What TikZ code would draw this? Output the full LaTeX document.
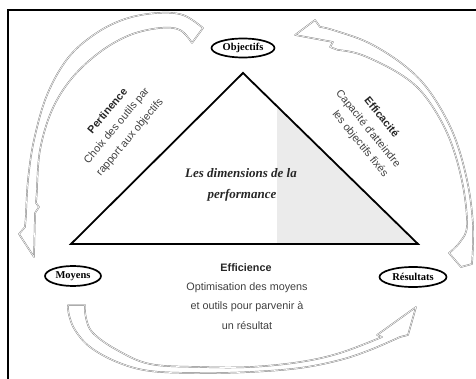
\documentclass[tikz,border=0pt]{standalone}
\usepackage{fontspec}
\setmainfont{Liberation Serif}
\newfontfamily\arialf{Liberation Sans}
\usetikzlibrary{shapes.geometric}
\begin{document}
\begin{tikzpicture}[x=1pt,y=-1pt,
  arr/.style={draw=black!50, line width=0.45pt, double=white, double distance=0.6pt, fill=white, line join=round},
  oval/.style={ellipse, draw=black, line width=1.7pt, inner sep=0pt, font=\bfseries\fontsize{10.5}{12}\selectfont},
  lbl/.style={font=\arialf\fontsize{10.8}{13}\selectfont, text=black!75},
  blbl/.style={font=\arialf\bfseries\fontsize{10.8}{13}\selectfont, text=black!85},
  ttl/.style={font=\bfseries\itshape\fontsize{13}{15}\selectfont, text=black!85}]
\useasboundingbox (0,0) rectangle (476,379);
% frame
\draw[line width=1.5pt] (8,379) -- (8,10) -- (476,10);
% triangle
\coordinate (A) at (243,73);
\coordinate (B) at (71,244);
\coordinate (C) at (418,244);
\fill[black!8] (277,106.2) -- (C) -- (277,244) -- cycle;
\draw[line width=1.8pt, line join=miter] (A) -- (B) -- (C) -- cycle;
% arrow top-left (Objectifs -> Moyens)
\draw[arr] (203,28) -- plot[smooth,tension=0.6] coordinates {(203,28) (183,15) (157,13) (125,19) (95,34) (68,58) (47,95) (34,140) (28,180) (26,215)}
  -- (25,227) -- (19,234) -- (34,257) -- (35,213) -- (39,207) -- (36,203) -- (37,190)
  -- plot[smooth,tension=0.6] coordinates {(37,190) (40,150) (52,110) (72,78) (100,52) (130,35) (160,28) (180,30) (192,43)} -- cycle;
% arrow right (Resultats -> Objectifs)
\draw[arr] (295,35) -- (315,20) -- (320,27)
  -- plot[smooth,tension=0.6] coordinates {(320,27) (333,30) (369,43) (405,66) (430,92) (453,133) (467,180) (473,225) (472,264)}
  -- (461,267) -- (449,253)
  -- plot[smooth,tension=0.6] coordinates {(449,253) (460,242) (467,225) (462,181) (448,135) (425,96) (400,74) (362,55) (338,50)}
  -- (330,47) -- (333,42) -- cycle;
% arrow bottom (Moyens -> Resultats)
\draw[arr] (68,305) -- (85,305)
  -- plot[smooth,tension=0.6] coordinates {(85,305) (86,318) (93,333) (117,350) (150,364) (200,367) (250,367) (300,362) (340,353) (382,337)}
  -- (377,335) -- (416,307) -- (408,335) -- (400,337)
  -- plot[smooth,tension=0.6] coordinates {(400,337) (370,350) (340,360) (300,368) (250,372) (200,373) (150,371) (117,362) (90,347) (75,330) (69,315) (68,305)}
  -- cycle;
% ellipses
\node[oval, minimum width=63pt, minimum height=19pt] (obj) at (243,48) {Objectifs};
\node[oval, minimum width=56pt, minimum height=20pt] (moy) at (73,276) {Moyens};
\node[oval, minimum width=67pt, minimum height=20pt] (res) at (413,277) {Résultats};
% centre title
\node[ttl] (t1) at (241,173) {Les dimensions de la};
\node[ttl] (t2) at (242,195) {performance};
% efficience
\node[blbl] (e1) at (246,268) {Efficience};
\node[lbl] (e2) at (247,288) {Optimisation des moyens};
\node[lbl] (e3) at (247,307) {et outils pour parvenir à};
\node[lbl] (e4) at (247,326) {un résultat};
% pertinence
\node[blbl, rotate=50] (p1) at (107.2,110.5) {Pertinence};
\node[lbl, rotate=50] (p2) at (117,126) {Choix des outils par};
\node[lbl, rotate=50] (p3) at (130.1,137.6) {rapport aux objectifs};
% efficacite
\node[blbl, rotate=-51] (f1) at (382,117) {Efficacité};
\node[lbl, rotate=-51] (f2) at (368,129) {Capacité d'atteindre};
\node[lbl, rotate=-51] (f3) at (360,144) {les objectifs fixés};
\end{tikzpicture}
\end{document}
